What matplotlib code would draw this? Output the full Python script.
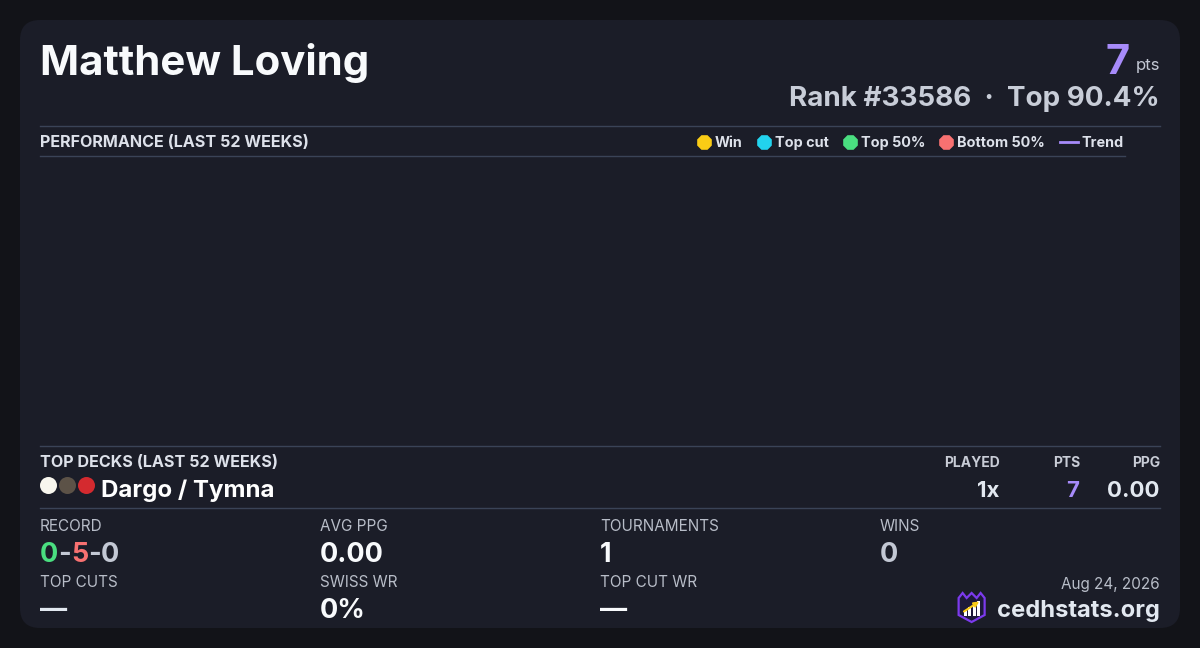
import matplotlib
matplotlib.use("Agg")
import matplotlib.pyplot as plt
from matplotlib.patches import FancyBboxPatch, Polygon, Rectangle

plt.rcParams['font.family'] = ['Inter', 'DejaVu Sans']

# ---- data ----
player = "Matthew Loving"
points = 7
rank = 33586
top_pct = 90.4
perf_title = "PERFORMANCE (LAST 52 WEEKS)"
perf_weeks = []
perf_points = []
legend_labels = ["Win", "Top cut", "Top 50%", "Bottom 50%"]
legend_colors = ["#facc15", "#22d3ee", "#4ade80", "#f87171"]
trend_color = "#a78bfa"

decks_title = "TOP DECKS (LAST 52 WEEKS)"
deck_names = ["Dargo / Tymna"]
deck_pips = [["#f8f6ee", "#5c5247", "#d42a2f"]]
deck_played = [1]
deck_pts = [7]
deck_ppg = [0.00]

record = [0, 5, 0]
record_colors = ["#4ade80", "#f87171", "#c3c8d4"]
stat_labels = ["RECORD", "AVG PPG", "TOURNAMENTS", "WINS",
               "TOP CUTS", "SWISS WR", "TOP CUT WR"]
stat_values = [None, "0.00", "1", "0", "\u2014", "0%", "\u2014"]
stat_colors = [None, "#f8fafc", "#f8fafc", "#c3c8d4", "#e2e8f0", "#f8fafc", "#f8fafc"]
date_str = "Aug 24, 2026"
site = "cedhstats.org"

BG = "#121318"
CARD = "#1b1d28"
RULE = "#3a4357"
LABEL = "#b8bdc8"
HEAD = "#dde1ea"

fig = plt.figure(figsize=(12, 6.48), dpi=100, facecolor=BG)
ax = fig.add_axes([0, 0, 1, 1])
ax.set_xlim(0, 1200)
ax.set_ylim(648, 0)
ax.axis('off')
r = fig.canvas.get_renderer()

ax.add_patch(FancyBboxPatch((20, 20), 1160, 608, boxstyle="round,pad=0,rounding_size=20",
                            fc=CARD, ec='none'))

def txt(x, y, s, size, color, weight='normal', ha='left'):
    return ax.text(x, y, s, fontsize=size, color=color, fontweight=weight,
                   ha=ha, va='baseline')

def width(t):
    bb = t.get_window_extent(r)
    return bb.width

# header
txt(40, 75, player, 30.2, "#f8fafc", 'bold')
pts_t = txt(1160, 70, "pts", 12, "#c3c8d4", ha='right')
txt(1160 - width(pts_t) - 6, 74, str(points), 30, trend_color, 'bold', ha='right')
txt(1160, 106, f"Rank #{rank}  \u00b7  Top {top_pct}%", 20, "#c8cdd8", 'bold', ha='right')

# rules
for y, x1 in [(126, 1160), (156, 1125), (446, 1160), (508, 1160)]:
    ax.plot([40, x1], [y, y], color=RULE, lw=1)

# performance section
txt(40, 147, perf_title, 11.6, HEAD, 'bold')
x = 1124
tr = txt(x, 147, "Trend", 10.4, HEAD, 'bold', ha='right')
x -= width(tr) + 4
ax.plot([x - 18, x], [142, 142], color=trend_color, lw=2)
x -= 18 + 15
for lab, col in zip(reversed(legend_labels), reversed(legend_colors)):
    t = txt(x, 147, lab, 10.4, HEAD, 'bold', ha='right')
    x -= width(t) + 4
    ax.scatter([x - 7], [142], s=130, marker='8', color=col, linewidths=0)
    x -= 13 + 15

perf_ax = fig.add_axes([40 / 1200, 1 - 446 / 648, 1120 / 1200, 290 / 648])
perf_ax.plot(perf_weeks, perf_points, color=trend_color)
perf_ax.axis('off')

# top decks
txt(40, 467, decks_title, 11.6, HEAD, 'bold')
for hx, h in [(1000, "PLAYED"), (1080, "PTS"), (1160, "PPG")]:
    txt(hx, 467, h, 10, "#c8ccd6", 'bold', ha='right')
for i, name in enumerate(deck_names):
    yb = 497 + i * 40
    for j, c in enumerate(deck_pips[i]):
        ax.scatter([48 + 19 * j], [yb - 12], s=150, color=c, linewidths=0)
    txt(101, yb, name, 17.3, "#ffffff", 'bold')
    txt(999, yb, f"{deck_played[i]}x", 16, "#e2e8f0", 'bold', ha='right')
    txt(1079, yb, str(deck_pts[i]), 16, trend_color, 'bold', ha='right')
    txt(1160, yb, f"{deck_ppg[i]:.2f}", 16, "#e2e8f0", 'bold', ha='right')

# stats grid
cols = [40, 320, 600, 880]
for k, lab in enumerate(stat_labels):
    cx = cols[k % 4]
    ly = 531 if k < 4 else 587
    txt(cx, ly, lab, 11, LABEL)
    vy = ly + 31
    if stat_values[k] is None:
        xx = cx
        parts = [str(record[0]), "-", str(record[1]), "-", str(record[2])]
        pcol = [record_colors[0], record_colors[2], record_colors[1],
                record_colors[2], record_colors[2]]
        for p, c in zip(parts, pcol):
            t = txt(xx, vy, p, 19.5, c, 'bold')
            xx += width(t)
    else:
        txt(cx, vy, stat_values[k], 19.5, stat_colors[k], 'bold')

# footer
txt(1160, 589, date_str, 11, LABEL, ha='right')
st = txt(1160, 617, site, 17.1, "#e2e8f0", 'bold', ha='right')
lx = 1160 - width(st) - 12 - 13.5
ly = 608
shield = [(-13, -10), (-9, -15), (-5, -10), (0, -15), (5, -10), (9, -15), (13, -10),
          (13, 7), (0, 14), (-13, 7)]
ax.add_patch(Polygon([(lx + a, ly + b) for a, b in shield], closed=True,
                     fc="#1e1a3a", ec="#7c3aed", lw=1.6))
for bi, bh in enumerate([5, 9, 12, 15]):
    ax.add_patch(Rectangle((lx - 8 + bi * 4.5, ly + 8 - bh), 3, bh, fc="#ffffff", ec='none'))
ax.annotate("", xy=(lx + 10, ly - 8), xytext=(lx - 10, ly + 5),
            arrowprops=dict(arrowstyle="-|>", color="#facc15", lw=1.5, mutation_scale=7))

fig.savefig("out.png", dpi=100, facecolor=BG)
